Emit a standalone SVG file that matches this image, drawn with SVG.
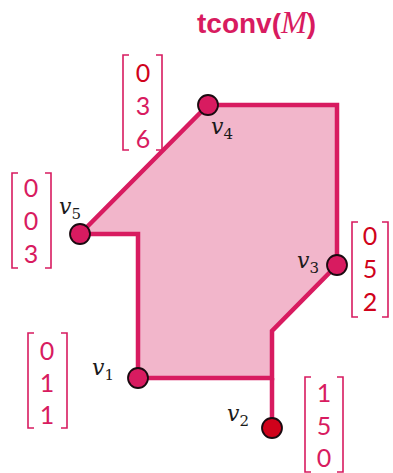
<svg xmlns="http://www.w3.org/2000/svg" width="393" height="473" viewBox="0 0 393 473">
<style>
.edge{fill:none;stroke:#D81B60;stroke-width:4.5;stroke-linejoin:miter}
.hull{fill:#F2B6CB;stroke:none}
.dot{fill:#D81B60;stroke:#1a0a10;stroke-width:1.8}
.dot2{fill:#D0021B;stroke:#1a0a10;stroke-width:1.8}
.br{fill:none;stroke:#D81B60;stroke-width:1.6}
.num{font-family:Lato,"Noto Sans",sans-serif;font-size:25px;fill:#D81B60;text-anchor:middle}
.red{fill:#D0021B}
.lbl{font-family:"DejaVu Serif","Liberation Serif",serif;font-style:italic;font-size:22px;fill:#1a1a1a}
.sub{font-family:"DejaVu Serif","Liberation Serif",serif;font-style:normal;font-size:15px;fill:#1a1a1a}
.title{font-family:"Liberation Sans",Arial,sans-serif;font-weight:bold;font-size:28px;fill:#D81B60}
</style>
<g id="title"><text class="title" x="197" y="33">tconv(<tspan font-family="Liberation Serif,serif" font-style="italic" font-weight="normal" font-size="31">M</tspan>)</text></g>
<g id="hull">
<polygon class="hull" points="208,105 337,105 337,265 272,331 272,378 138,378 138,234 80,234"/>
</g>
<g id="connectors">
<polyline class="edge" points="80,234 208,105 337,105 337,265 272,331 272,378 138,378 138,234 80,234"/>
<line class="edge" x1="272" y1="378" x2="272" y2="428"/>
</g>
<g id="v4">
<circle class="dot" cx="208" cy="105" r="10"/>
<text class="lbl" x="211" y="134">v<tspan class="sub" dy="5">4</tspan></text>
<path class="br" d="M129,55 H123 V150 H129 M156,55 H162 V150 H156"/>
<text class="num red" x="143" y="82">0</text>
<text class="num" x="143" y="115">3</text>
<text class="num" x="143" y="148">6</text>
</g>
<g id="v5">
<circle class="dot" cx="80" cy="234" r="10"/>
<text class="lbl" x="59" y="214">v<tspan class="sub" dy="5">5</tspan></text>
<path class="br" d="M18,173 H12 V268 H18 M45,173 H51 V268 H45"/>
<text class="num" x="31" y="197">0</text>
<text class="num" x="31" y="230">0</text>
<text class="num" x="31" y="263">3</text>
</g>
<g id="v3">
<circle class="dot" cx="337" cy="265" r="10"/>
<text class="lbl" x="297" y="268">v<tspan class="sub" dy="5">3</tspan></text>
<path class="br" d="M358,222 H352 V317 H358 M382,222 H388 V317 H382"/>
<text class="num red" x="370" y="245">0</text>
<text class="num red" x="370" y="278">5</text>
<text class="num red" x="370" y="311">2</text>
</g>
<g id="v1">
<circle class="dot" cx="138" cy="378" r="10"/>
<text class="lbl" x="92" y="375">v<tspan class="sub" dy="5">1</tspan></text>
<path class="br" d="M34,333 H28 V428 H34 M61,333 H67 V428 H61"/>
<text class="num" x="47" y="360">0</text>
<text class="num" x="47" y="392">1</text>
<text class="num" x="47" y="424">1</text>
</g>
<g id="v2">
<circle class="dot2" cx="272" cy="428" r="10"/>
<text class="lbl" x="227" y="421">v<tspan class="sub" dy="5">2</tspan></text>
<path class="br" d="M311,377 H305 V472 H311 M337,377 H343 V472 H337"/>
<text class="num" x="324" y="402">1</text>
<text class="num" x="324" y="435">5</text>
<text class="num" x="324" y="467">0</text>
</g>
</svg>
